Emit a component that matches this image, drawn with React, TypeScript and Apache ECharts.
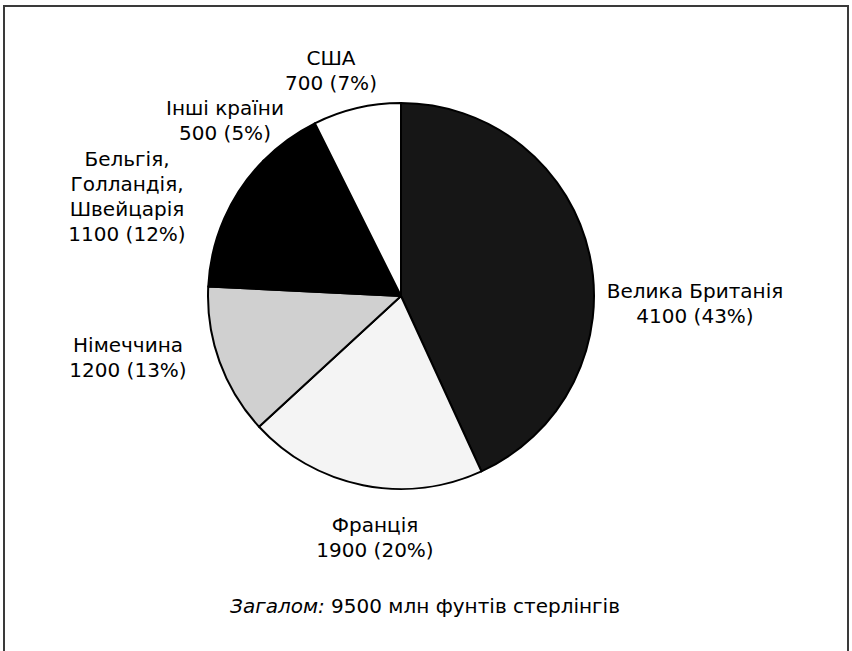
import React, { useEffect, useRef } from "react";
import * as echarts from "echarts";

const categories = [
  "Велика Британія",
  "Франція",
  "Німеччина",
  "Бельгія,\nГолландія,\nШвейцарія",
  "Інші країни",
  "США",
];
const values = [4100, 1900, 1200, 1100, 500, 700];
const sliceColors = ["#161616", "#f4f4f4", "#d0d0d0", "#000000", "#000000", "#ffffff"];
const labelPositions = [
  [695, 303],
  [375, 537],
  [128, 357],
  [127, 196],
  [225, 120],
  [331, 70],
];
const totalText = "9500 млн фунтів стерлінгів";

export default function App() {
  const ref = useRef<HTMLDivElement>(null);
  useEffect(() => {
    if (!ref.current) return;
    const chart = echarts.init(ref.current, null, { renderer: "svg" });
    chart.setOption({
      animation: false,
      backgroundColor: "#ffffff",
      graphic: [
        {
          type: "rect",
          shape: { x: 4, y: 6, width: 844, height: 700 },
          style: { fill: "none", stroke: "#3a3a3a", lineWidth: 2 },
          z: 0,
        },
        {
          type: "text",
          x: 425,
          y: 606,
          style: {
            text: "{i|Загалом:} " + totalText,
            align: "center",
            verticalAlign: "middle",
            font: "20px 'DejaVu Sans'",
            fill: "#000",
            rich: {
              i: { fontStyle: "italic", fontFamily: "DejaVu Sans", fontSize: 20, fill: "#000" },
            },
          },
        },
      ],
      series: [
        {
          type: "pie",
          center: [401, 296],
          radius: 193,
          startAngle: 90,
          clockwise: true,
          avoidLabelOverlap: false,
          percentPrecision: 0,
          itemStyle: { borderColor: "#000", borderWidth: 2 },
          label: {
            show: true,
            position: "outside",
            formatter: "{b}\n{c} ({d}%)",
            fontFamily: "DejaVu Sans",
            fontSize: 20,
            lineHeight: 25,
            color: "#000",
            align: "center",
          },
          labelLine: { show: false },
          labelLayout: (params: any) => {
            const p = labelPositions[params.dataIndex];
            return { x: p[0], y: p[1], align: "center", verticalAlign: "middle" };
          },
          emphasis: { disabled: true },
          data: categories.map((name, i) => ({
            name,
            value: values[i],
            itemStyle: { color: sliceColors[i] },
          })),
        },
      ],
    });
    return () => chart.dispose();
  }, []);
  return (
    <div
      ref={ref}
      style={{ position: "fixed", left: 0, top: 0, width: 852, height: 651 }}
    />
  );
}
